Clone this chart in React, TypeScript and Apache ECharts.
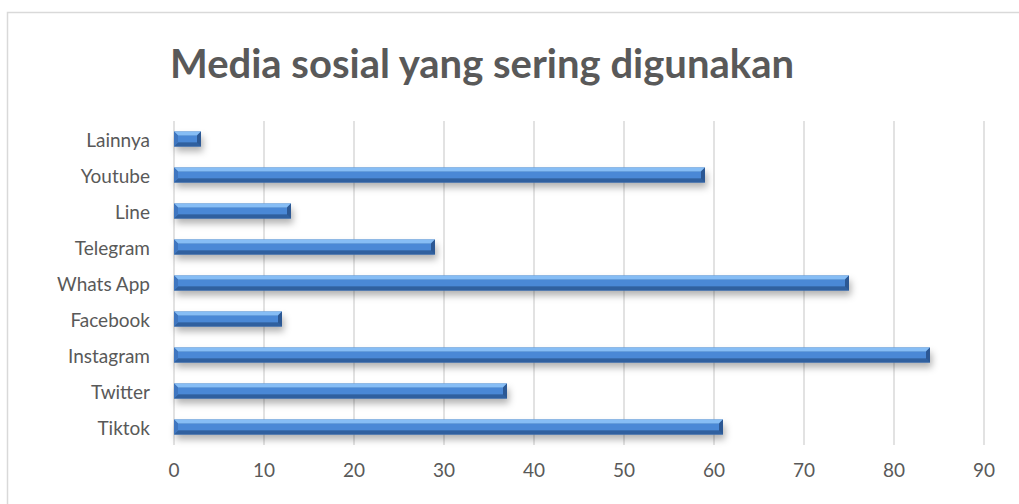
import React, { useEffect, useRef } from "react";
import * as echarts from "echarts";

const categories = ["Tiktok", "Twitter", "Instagram", "Facebook", "Whats App", "Telegram", "Line", "Youtube", "Lainnya"];
const values = [61, 37, 84, 12, 75, 29, 13, 59, 3];
const xTicks = [0, 90, 10];
const titleText = "Media sosial yang sering digunakan";

export default function App() {
  const ref = useRef<HTMLDivElement>(null);
  useEffect(() => {
    document.body.style.margin = "0";
    const chart = echarts.init(ref.current!, null, { renderer: "svg" });
    const barH = 15;
    const b = 4;
    const renderItem = (params: any, api: any) => {
      const v = api.value(0);
      const cat = api.value(1);
      const s = api.coord([0, cat]);
      const e = api.coord([v, cat]);
      const x0 = s[0];
      const x1 = e[0];
      const y0 = s[1] - barH / 2;
      const y1 = s[1] + barH / 2;
      const poly = (pts: number[][], fill: string) => ({ type: "polygon", shape: { points: pts }, style: { fill } });
      return {
        type: "group",
        children: [
          {
            type: "rect",
            shape: { x: x0, y: y0, width: x1 - x0, height: barH },
            style: { fill: "#3e6fb0", shadowBlur: 7, shadowOffsetX: 2, shadowOffsetY: 5, shadowColor: "rgba(0,0,0,0.3)" },
          },
          poly([[x0 + b, y0 + b], [x1 - b, y0 + b], [x1 - b, y1 - b], [x0 + b, y1 - b]], "#4a88d6"),
          poly([[x0, y0], [x1, y0], [x1 - b, y0 + b], [x0 + b, y0 + b]], "#86bdf5"),
          poly([[x0, y1], [x1, y1], [x1 - b, y1 - b], [x0 + b, y1 - b]], "#30609f"),
          poly([[x0, y0], [x0 + b, y0 + b], [x0 + b, y1 - b], [x0, y1]], "#3f76c0"),
          poly([[x1, y0], [x1 - b, y0 + b], [x1 - b, y1 - b], [x1, y1]], "#2c5894"),
        ],
      };
    };
    chart.setOption({
      animation: false,
      backgroundColor: "#ffffff",
      title: {
        text: titleText,
        left: 477,
        top: 38,
        textAlign: "center",
        textStyle: { fontFamily: "Lato", fontWeight: "bold", fontSize: 40, color: "#595959" },
      },
      graphic: [
        {
          type: "rect",
          shape: { x: 7.5, y: 12.5, width: 1030, height: 520 },
          style: { fill: "none", stroke: "#d9d9d9", lineWidth: 1.5 },
          silent: true,
        },
      ],
      grid: { left: 174, right: 35, top: 121, bottom: 59 },
      xAxis: {
        type: "value",
        min: xTicks[0],
        max: xTicks[1],
        interval: xTicks[2],
        axisLine: { show: false },
        axisTick: { show: false },
        splitLine: { lineStyle: { color: "#d9d9d9", width: 1.5 } },
        axisLabel: { color: "#595959", fontFamily: "Lato", fontSize: 19, margin: 15 },
      },
      yAxis: {
        type: "category",
        data: categories,
        axisLine: { show: false },
        axisTick: { show: false },
        axisLabel: { color: "#595959", fontFamily: "Lato", fontSize: 19, margin: 24 },
      },
      series: [
        {
          type: "custom",
          renderItem,
          encode: { x: 0, y: 1 },
          data: values.map((v, i) => [v, i]),
        },
      ],
    });
    return () => chart.dispose();
  }, []);
  return <div ref={ref} style={{ width: 1019, height: 504 }} />;
}
